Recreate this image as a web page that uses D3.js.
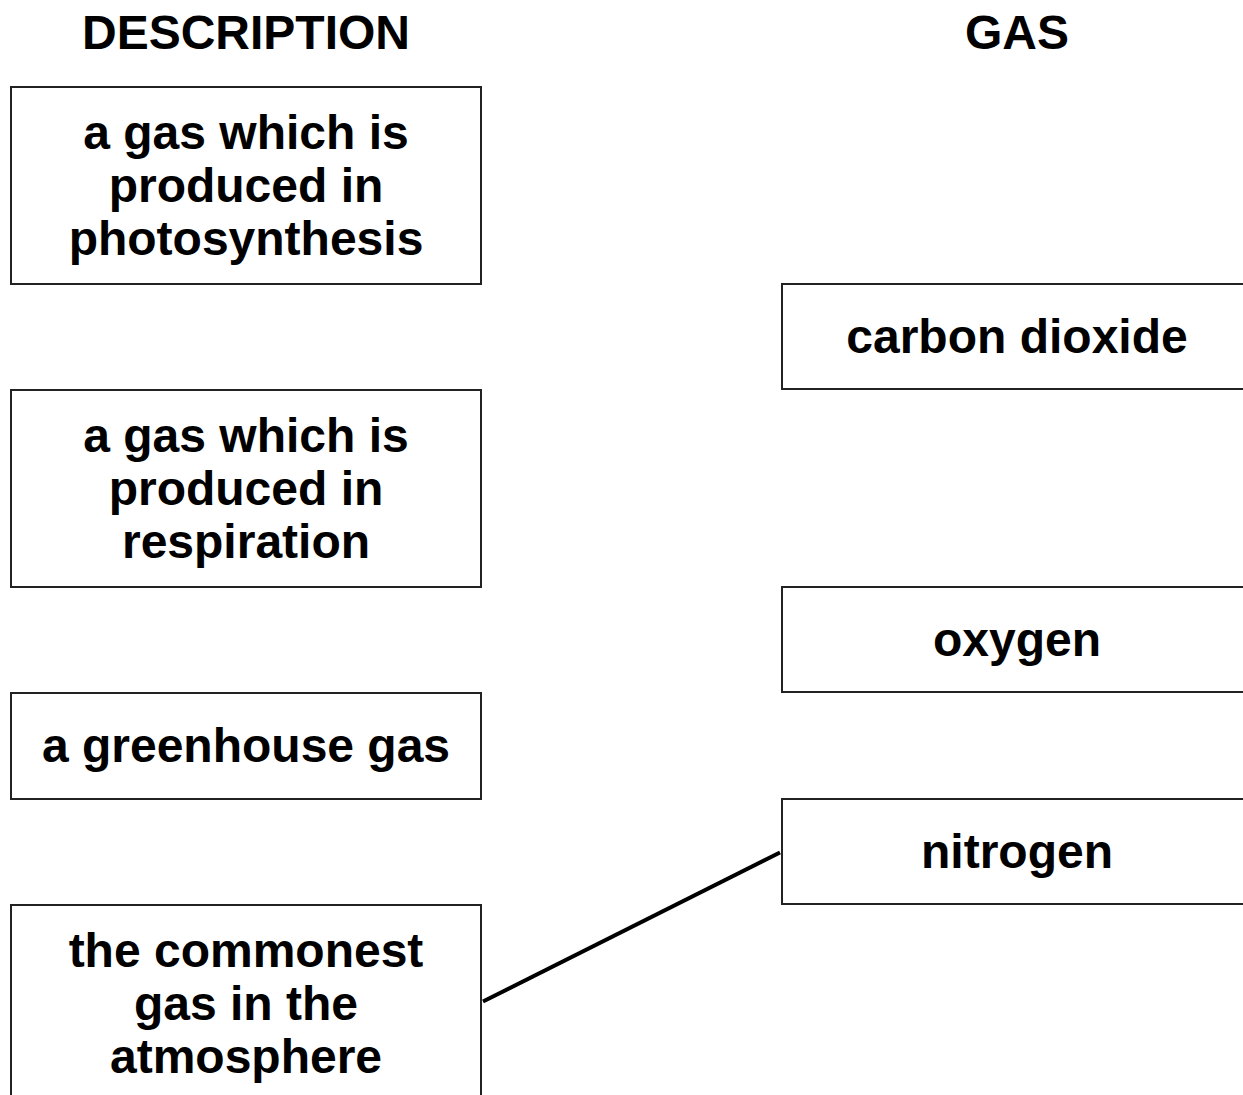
<!DOCTYPE html>
<html>
<head>
<meta charset="utf-8">
<script src="https://cdn.jsdelivr.net/npm/d3@7"></script>
<style>
    body { margin: 0; background: #fff; }
    text { font-family: "Liberation Sans", Arial, Helvetica, sans-serif; font-weight: bold; fill: #000; }
</style>
</head>
<body>
<div id="chart"></div>
<script>
"use strict";

const headers = ["DESCRIPTION", "GAS"];
const descriptions = [
    ["a gas which is", "produced in", "photosynthesis"],
    ["a gas which is", "produced in", "respiration"],
    ["a greenhouse gas"],
    ["the commonest", "gas in the", "atmosphere"]
];
const gases = ["carbon dioxide", "oxygen", "nitrogen"];
// [description index, gas index]
const links = [[3, 2]];

const width = 1243;
const height = 1095;
const fontSize = 48;
const lineGap = 53;

// column centres
const xCol = d3.scalePoint().domain(headers).range([246, 1017]);
const boxW = 470;
// box height from number of text lines
const hScale = d3.scaleLinear().domain([1, 3]).range([106, 197]);
const rowGap = 106;
const gasBoxH = 105;

// stack the description boxes
let cursorY = 87;
const leftBoxes = descriptions.map(lines => {
    const h = hScale(lines.length);
    const b = {lines, y: cursorY, h};
    cursorY += h + rowGap;
    return b;
});
// each gas box sits level with the bottom of a description box
const rightBoxes = gases.map((g, i) => ({
    lines: [g],
    y: leftBoxes[i].y + leftBoxes[i].h,
    h: gasBoxH
}));

const svg = d3.select("#chart").append("svg")
              .attr("width", width)
              .attr("height", height);

svg.selectAll("text.header").data(headers).enter()
   .append("text")
   .attr("class", "header")
   .attr("x", d => xCol(d))
   .attr("y", 49)
   .attr("text-anchor", "middle")
   .style("font-size", fontSize + "px")
   .text(d => d);

const drawBoxes = (data, col) => {
    const cx = xCol(col);
    const g = svg.selectAll(null).data(data).enter().append("g");
    g.append("rect")
     .attr("x", cx - boxW / 2)
     .attr("y", d => d.y)
     .attr("width", boxW)
     .attr("height", d => d.h)
     .attr("fill", "none")
     .attr("stroke", "#222")
     .attr("stroke-width", 2);
    g.each(function (d) {
        const mid = d.y + d.h / 2;
        const n = d.lines.length;
        d3.select(this).selectAll("text").data(d.lines).enter()
          .append("text")
          .attr("x", cx)
          .attr("y", (t, i) => mid + (i - (n - 1) / 2) * lineGap + 16)
          .attr("text-anchor", "middle")
          .style("font-size", fontSize + "px")
          .text(t => t);
    });
};

drawBoxes(leftBoxes, headers[0]);
drawBoxes(rightBoxes, headers[1]);

svg.selectAll("line.link").data(links).enter()
   .append("line")
   .attr("class", "link")
   .attr("x1", d => xCol(headers[0]) + boxW / 2 + 2)
   .attr("y1", d => leftBoxes[d[0]].y + leftBoxes[d[0]].h / 2 - 2)
   .attr("x2", d => xCol(headers[1]) - boxW / 2 - 2)
   .attr("y2", d => rightBoxes[d[1]].y + rightBoxes[d[1]].h / 2 + 1)
   .attr("stroke", "#000")
   .attr("stroke-width", 4);
</script>
</body>
</html>
